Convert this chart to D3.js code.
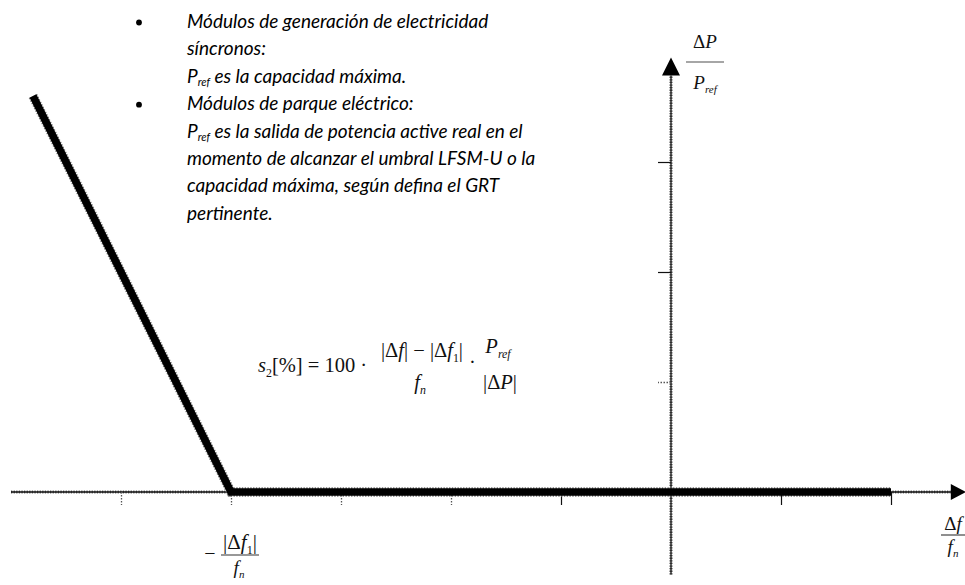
<!DOCTYPE html>
<html>
<head>
<meta charset="utf-8">
<script src="https://cdn.jsdelivr.net/npm/d3@7"></script>
<style>
  body { margin: 0; background: #fff; }
  svg { display: block; }
</style>
</head>
<body>
<script>
// Droop characteristic in tick units: ΔP/Pref against Δf/fn
const curveX = [-5.8, -4, 2];
const curveY = [3.6, 0, 0];

// Axis ticks (solid and faint dotted ones)
const xTicksSolid = [-1, 1, 2];
const xTicksDotted = [-5, -4, -3, -2];
const yTicksSolid = [2, 3];
const yTicksDotted = [1];

// Extent of the drawn axes, arrow tips included
const xExtent = [-6, 2.68];
const yExtent = [-0.75, 3.95];

// Explanatory notes (bullet, text runs: [text, isSubscript])
const notes = [
  { bullet: true,  runs: [["Módulos de generación de electricidad", false]] },
  { bullet: false, runs: [["síncronos:", false]] },
  { bullet: false, runs: [["P", false], ["ref", true], [" es la capacidad máxima.", false]] },
  { bullet: true,  runs: [["Módulos de parque eléctrico:", false]] },
  { bullet: false, runs: [["P", false], ["ref", true], [" es la salida de potencia active real en el", false]] },
  { bullet: false, runs: [["momento de alcanzar el umbral LFSM-U o la", false]] },
  { bullet: false, runs: [["capacidad máxima, según defina el GRT", false]] },
  { bullet: false, runs: [["pertinente.", false]] }
];

const W = 965, H = 585;
const svg = d3.select("body").append("svg")
  .attr("width", W).attr("height", H)
  .style("background", "#fff");

const x = d3.scaleLinear().domain([-6, 3]).range([11, 1001]);
const y = d3.scaleLinear().domain([0, 3]).range([492, 162]);

const serif = "'Liberation Serif', 'Times New Roman', serif";
const notesFont = "Lato, 'Open Sans', sans-serif";

// ---- axes -------------------------------------------------------------
const axisG = svg.append("g");
const xArrowLen = 15, yArrowLen = 18;

function roughLine(g, x1, y1, x2, y2) {
  g.append("line").attr("x1", x1).attr("y1", y1).attr("x2", x2).attr("y2", y2)
    .attr("stroke", "#666").attr("stroke-width", 3.2)
    .attr("stroke-dasharray", "1.3,1.3");
  g.append("line").attr("x1", x1).attr("y1", y1).attr("x2", x2).attr("y2", y2)
    .attr("stroke", "#111").attr("stroke-width", 1.3);
}

// horizontal axis
roughLine(axisG, x(xExtent[0]), y(0), x(xExtent[1]) - xArrowLen, y(0));
axisG.append("path")
  .attr("d", d3.line()([
    [x(xExtent[1]), y(0)],
    [x(xExtent[1]) - xArrowLen, y(0) - 8],
    [x(xExtent[1]) - xArrowLen, y(0) + 8]
  ]) + "Z")
  .attr("fill", "#000");

// vertical axis
roughLine(axisG, x(0), y(yExtent[0]), x(0), y(yExtent[1]) + yArrowLen);
axisG.append("path")
  .attr("d", d3.line()([
    [x(0), y(yExtent[1])],
    [x(0) - 9, y(yExtent[1]) + yArrowLen],
    [x(0) + 9, y(yExtent[1]) + yArrowLen]
  ]) + "Z")
  .attr("fill", "#000");

// ticks via d3 axes, domain path removed
function styleTicks(sel, dotted) {
  sel.select(".domain").remove();
  sel.selectAll(".tick line")
    .attr("stroke", dotted ? "#555" : "#111")
    .attr("stroke-width", dotted ? 1.3 : 1.2)
    .attr("stroke-dasharray", dotted ? "1.5,1.5" : null);
}
axisG.append("g").attr("transform", `translate(0,${y(0)})`)
  .call(d3.axisBottom(x).tickValues(xTicksSolid).tickSize(13).tickFormat(""))
  .call(s => styleTicks(s, false));
axisG.append("g").attr("transform", `translate(0,${y(0)})`)
  .call(d3.axisBottom(x).tickValues(xTicksDotted).tickSize(13).tickFormat(""))
  .call(s => styleTicks(s, true));
axisG.append("g").attr("transform", `translate(${x(0)},0)`)
  .call(d3.axisLeft(y).tickValues(yTicksSolid).tickSize(13).tickFormat(""))
  .call(s => styleTicks(s, false));
axisG.append("g").attr("transform", `translate(${x(0)},0)`)
  .call(d3.axisLeft(y).tickValues(yTicksDotted).tickSize(13).tickFormat(""))
  .call(s => styleTicks(s, true));

// ---- droop characteristic ---------------------------------------------
const pts = curveX.map((v, i) => [x(v), y(curveY[i])]);
const line = d3.line();
svg.append("path").attr("d", line(pts))
  .attr("fill", "none").attr("stroke", "#777").attr("stroke-width", 9.5)
  .attr("stroke-dasharray", "1.4,1.4").attr("stroke-linejoin", "miter");
svg.append("path").attr("d", line(pts))
  .attr("fill", "none").attr("stroke", "#000").attr("stroke-width", 7.5)
  .attr("stroke-linejoin", "miter");

// ---- notes --------------------------------------------------------------
const notesG = svg.append("g")
  .attr("font-family", notesFont).attr("font-style", "italic")
  .attr("font-size", 19).attr("fill", "#000");
notes.forEach((n, i) => {
  const by = 28 + i * 27.4;
  if (n.bullet) {
    notesG.append("circle").attr("cx", 139).attr("cy", by - 5.5).attr("r", 2.9).attr("fill", "#000");
  }
  const t = notesG.append("text").attr("x", 187).attr("y", by);
  n.runs.forEach(([txt, sub]) => {
    const s = t.append("tspan").text(txt);
    if (sub) s.attr("font-size", 11).attr("dy", 3);
    else if (t.selectAll("tspan").size() > 1) s.attr("dy", -3);
  });
});

// ---- math helpers -------------------------------------------------------
function mathText(g, px, py, parts, size, anchor) {
  const t = g.append("text").attr("x", px).attr("y", py)
    .attr("font-family", serif).attr("font-size", size).attr("fill", "#111")
    .attr("text-anchor", anchor || "start");
  let shift = 0;
  parts.forEach(p => {
    const s = t.append("tspan").text(p.t);
    if (p.i) s.attr("font-style", "italic");
    const want = p.sub ? size * 0.22 : 0;
    if (want !== shift) { s.attr("dy", want - shift); shift = want; }
    if (p.sub) s.attr("font-size", size * 0.58);
  });
  return t;
}
const mathG = svg.append("g");

// formula for s2
mathText(mathG, 258, 372, [
  { t: "s", i: true }, { t: "2", sub: true }, { t: "[%] = 100 ·" }
], 20.5);
mathText(mathG, 422, 357, [
  { t: "|Δ" }, { t: "f", i: true }, { t: "| − |Δ" }, { t: "f", i: true },
  { t: "1", sub: true }, { t: "|" }
], 20.5, "middle");
mathText(mathG, 420, 389, [{ t: "f", i: true }, { t: "n", i: true, sub: true }], 20.5, "middle");
mathText(mathG, 469, 369, [{ t: "·" }], 20.5);
mathText(mathG, 498, 353, [{ t: "P", i: true }, { t: "ref", i: true, sub: true }], 20.5, "middle");
mathText(mathG, 500, 389, [{ t: "|Δ" }, { t: "P", i: true }, { t: "|" }], 20.5, "middle");

// y axis label ΔP / Pref
mathText(mathG, 705, 48, [{ t: "Δ" }, { t: "P", i: true }], 19, "middle");
mathG.append("line").attr("x1", 686).attr("x2", 724).attr("y1", 62).attr("y2", 62)
  .attr("stroke", "#888").attr("stroke-width", 1.5);
mathText(mathG, 705, 89, [{ t: "P", i: true }, { t: "ref", i: true, sub: true }], 19, "middle");

// x axis label Δf / fn
mathText(mathG, 953, 530, [{ t: "Δ" }, { t: "f", i: true }], 19, "middle");
mathG.append("line").attr("x1", 941).attr("x2", 965).attr("y1", 535).attr("y2", 535)
  .attr("stroke", "#444").attr("stroke-width", 1.2);
mathText(mathG, 953, 553, [{ t: "f", i: true }, { t: "n", i: true, sub: true }], 19, "middle");

// corner label −|Δf1| / fn
mathText(mathG, 210, 560, [{ t: "−" }], 20, "middle");
mathText(mathG, 240, 549, [{ t: "|Δ" }, { t: "f", i: true }, { t: "1", sub: true }, { t: "|" }], 21, "middle");
mathG.append("line").attr("x1", 221).attr("x2", 259).attr("y1", 555).attr("y2", 555)
  .attr("stroke", "#333").attr("stroke-width", 1.2);
mathText(mathG, 239, 574, [{ t: "f", i: true }, { t: "n", i: true, sub: true }], 19, "middle");
</script>
</body>
</html>
